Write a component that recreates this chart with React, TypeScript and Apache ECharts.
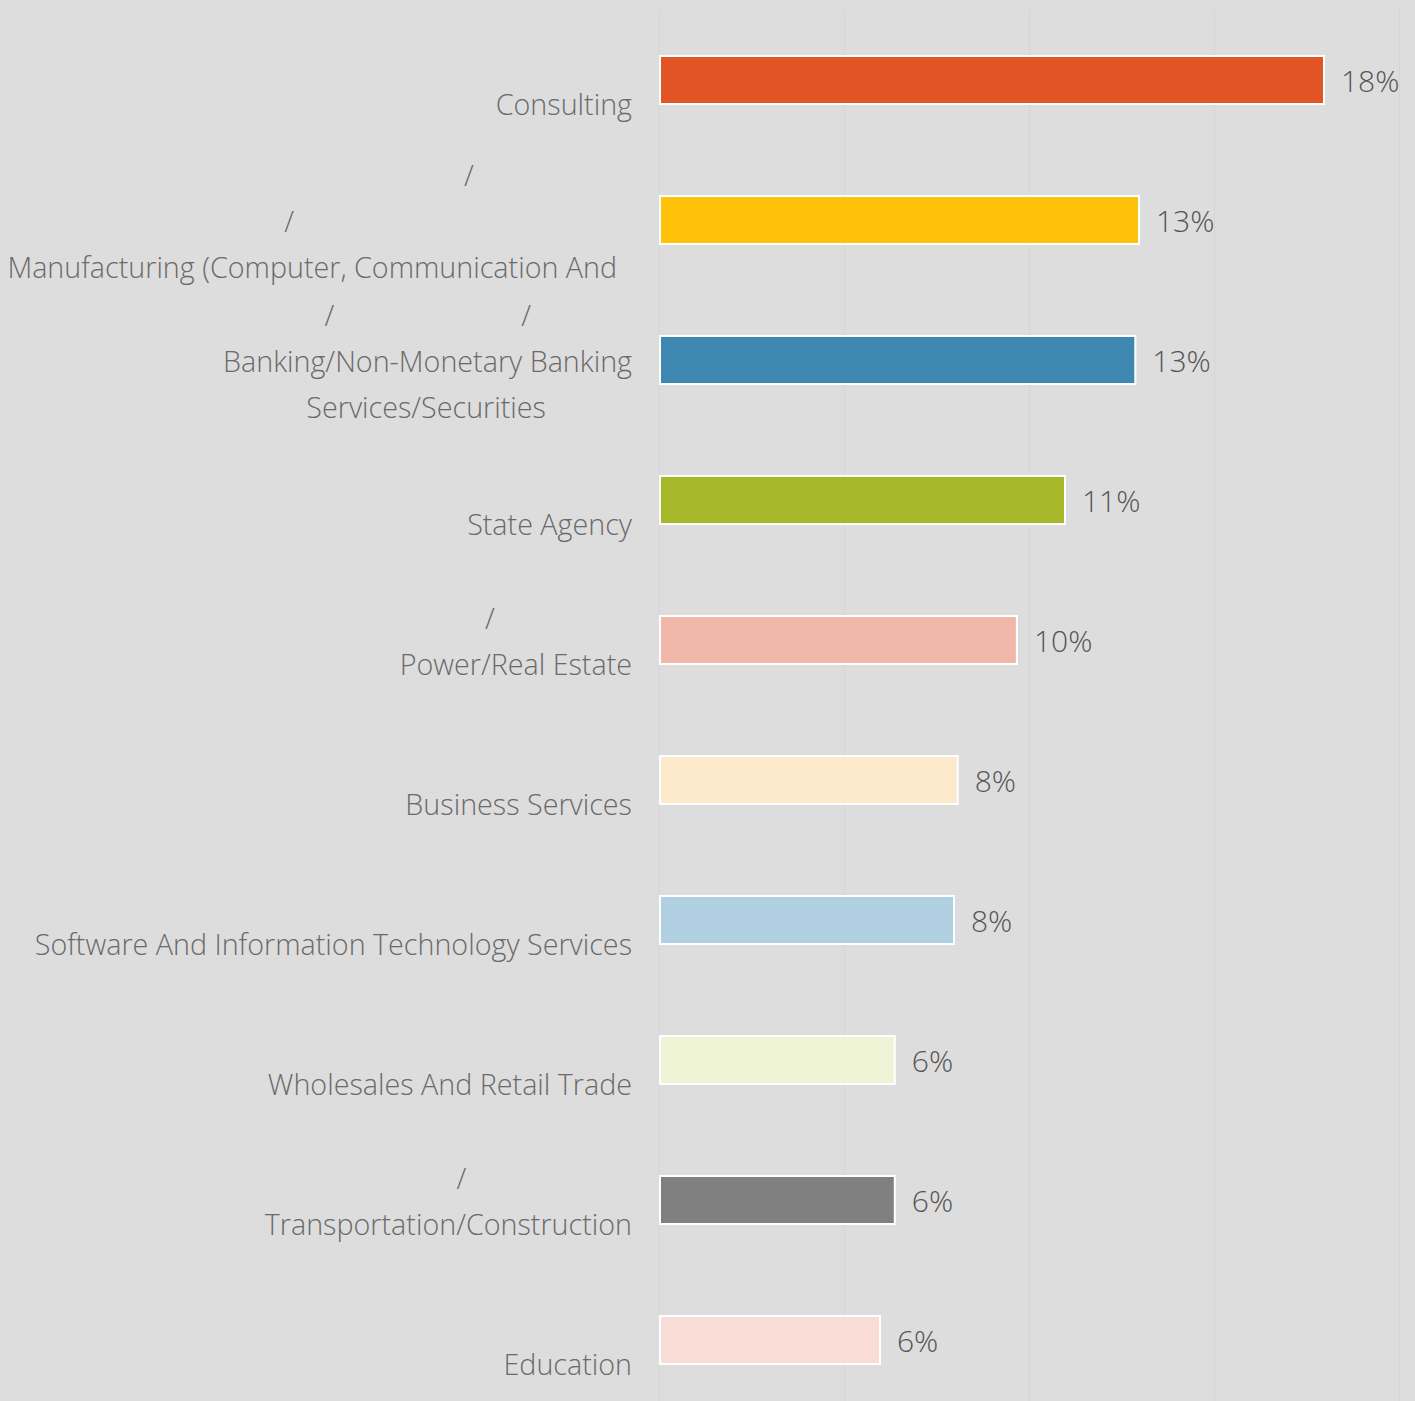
import React, { useEffect, useRef } from "react";
import * as echarts from "echarts";

const S = "\u3000";
const rep = (n: number) => S.repeat(n);
const sp = (n: number) => " ".repeat(n);

const categories: string[] = [
  rep(2) + "\nConsulting",
  "/" + rep(5) + sp(2) + "\n/" + rep(11) + sp(3) + "\nManufacturing (Computer, Communication And" + sp(2),
  "/" + rep(6) + sp(2) + "/" + rep(3) + sp(2) + "\nBanking/Non-Monetary Banking\nServices/Securities" + rep(3),
  rep(2) + "\nState Agency",
  "/" + rep(4) + sp(3) + "\nPower/Real Estate",
  rep(2) + "\nBusiness Services",
  rep(2) + "\nSoftware And Information Technology Services",
  rep(2) + "\nWholesales And Retail Trade",
  "/" + rep(5) + sp(3) + "\nTransportation/Construction",
  rep(2) + "\nEducation",
];

const values: number[] = [18.0, 13.0, 12.9, 11.0, 9.7, 8.1, 8.0, 6.4, 6.4, 6.0];

const colors: string[] = [
  "#e05426",
  "#fec20a",
  "#3f88b2",
  "#a6b72a",
  "#f1b8a9",
  "#fde9cc",
  "#b0cfe1",
  "#eff4d6",
  "#808080",
  "#f8dcd5",
];

const xTicks: number[] = [0, 5, 10, 15, 20];

export default function App() {
  const ref = useRef<HTMLDivElement>(null);
  useEffect(() => {
    document.body.style.margin = "0";
    const chart = echarts.init(ref.current!, undefined, { renderer: "svg" });
    chart.setOption({
      animation: false,
      backgroundColor: "#dddddd",
      grid: {
        left: 659,
        right: 16,
        top: 10,
        bottom: 10,
        containLabel: false,
        outerBoundsMode: "none",
      },
      xAxis: {
        type: "value",
        min: xTicks[0],
        max: xTicks[xTicks.length - 1],
        interval: 5,
        axisLabel: { show: false },
        axisLine: { show: false },
        axisTick: { show: false },
        splitLine: { show: true, lineStyle: { color: "#d5d5d5", width: 1 } },
      },
      yAxis: {
        type: "category",
        inverse: true,
        data: categories,
        axisLine: { show: false },
        axisTick: { show: false },
        axisLabel: {
          margin: 27,
          fontFamily: "'Open Sans', 'Noto Sans CJK SC', sans-serif",
          fontWeight: 300,
          fontSize: 28.7,
          lineHeight: 46,
          color: "#6a6a6a",
          align: "right",
        },
      },
      series: [
        {
          type: "bar",
          data: values.map((v, i) => ({
            value: v,
            itemStyle: { color: colors[i] },
          })),
          barWidth: 50,
          itemStyle: { borderColor: "#ffffff", borderWidth: 2 },
          label: {
            show: true,
            position: "right",
            distance: 16,
            fontFamily: "'Open Sans', sans-serif",
            fontWeight: 300,
            fontSize: 30,
            color: "#555555",
            formatter: (p: any) => Math.round(p.value) + "%",
          },
        },
      ],
    });
    return () => chart.dispose();
  }, []);
  return (
    <div
      ref={ref}
      style={{ position: "absolute", left: 0, top: 0, width: 1415, height: 1420 }}
    />
  );
}
